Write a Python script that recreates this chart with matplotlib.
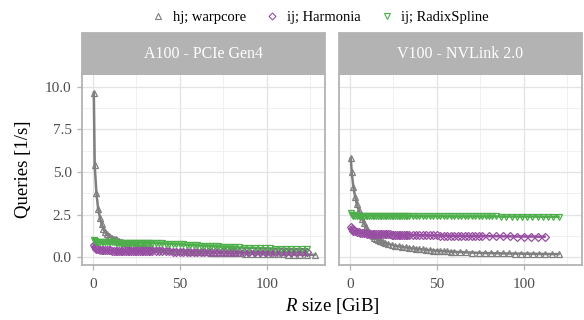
import matplotlib
matplotlib.use("Agg")
import matplotlib.pyplot as plt
from matplotlib.lines import Line2D
from matplotlib.patches import Rectangle

plt.rcParams['font.family'] = ['Liberation Serif', 'DejaVu Serif']
plt.rcParams['mathtext.fontset'] = 'custom'
plt.rcParams['mathtext.rm'] = 'Liberation Serif'
plt.rcParams['mathtext.it'] = 'Liberation Serif:italic'

panels = ['A100 - PCIe Gen4', 'V100 - NVLink 2.0']
series = ['hj; warpcore', 'ij; Harmonia', 'ij; RadixSpline']

# A100
x_a100_hj = [0.5, 1, 2, 3, 4, 5, 6, 7, 8, 9, 10, 11, 12, 13, 14, 15, 16, 17, 18, 19, 20,
             22, 24, 26, 28, 30, 32, 34, 36, 38, 40, 42, 44, 46, 48, 50, 52, 54, 56, 58, 60,
             62, 64, 66, 68, 70, 72, 74, 76, 78, 80, 82, 84, 87.5, 91, 94.5, 98, 101.5, 105,
             108.5, 112, 115.5, 119, 123, 127.5]
y_a100_hj = [9.65, 5.4, 3.75, 2.85, 2.33, 1.95, 1.66, 1.46, 1.34, 1.26, 1.2, 1.15, 1.1, 1.05, 1.0,
             0.96, 0.92, 0.88, 0.85, 0.82, 0.79,
             0.74, 0.69, 0.65, 0.61, 0.58, 0.55, 0.52, 0.5, 0.48, 0.46, 0.44, 0.42, 0.4, 0.39, 0.37,
             0.36, 0.35, 0.34, 0.33, 0.32, 0.31, 0.3, 0.29, 0.28, 0.27, 0.265, 0.26, 0.25, 0.245,
             0.24, 0.235, 0.23, 0.22, 0.21, 0.2, 0.19, 0.185, 0.18, 0.17, 0.165, 0.16, 0.155,
             0.15, 0.145]
x_a100_ij = [0.5, 1, 1.5, 2, 3, 4, 5, 6, 7, 8, 9, 10, 11, 12, 13, 14, 15, 16, 17, 18, 19, 20,
             21, 22, 23, 24, 25, 26, 27, 28, 29, 30, 31, 32, 33, 34, 36, 38, 40, 42, 44, 46, 48,
             50, 52, 54, 56, 58, 60, 62, 64, 66, 68, 70, 72, 74, 76, 78, 80, 82, 84, 87, 90, 93,
             96, 99, 102, 105, 108, 111, 114, 117, 120, 123]
y_a100_harmonia = [0.75, 0.6, 0.53, 0.5, 0.47, 0.45, 0.44, 0.43, 0.42, 0.42, 0.41, 0.41, 0.4,
                   0.4, 0.4, 0.39, 0.39, 0.39, 0.39, 0.38, 0.38, 0.38, 0.38, 0.38, 0.38, 0.37,
                   0.37, 0.37, 0.37, 0.37, 0.37, 0.36, 0.36, 0.36, 0.36, 0.36, 0.36, 0.35, 0.35,
                   0.35, 0.35, 0.34, 0.34, 0.34, 0.34, 0.33, 0.33, 0.33, 0.33, 0.33, 0.32, 0.32,
                   0.32, 0.32, 0.32, 0.31, 0.31, 0.31, 0.31, 0.31, 0.31, 0.31, 0.3, 0.3, 0.3, 0.3,
                   0.3, 0.3, 0.29, 0.29, 0.29, 0.29, 0.29, 0.29]
y_a100_radix = [1.0, 0.93, 0.9, 0.88, 0.88, 0.88, 0.88, 0.87, 0.87, 0.87, 0.87, 0.87, 0.87, 0.87,
                0.86, 0.86, 0.86, 0.86, 0.86, 0.86, 0.86, 0.86, 0.86, 0.86, 0.86, 0.86, 0.86,
                0.86, 0.86, 0.85, 0.85, 0.85, 0.85, 0.85, 0.85, 0.85, 0.84, 0.83, 0.82, 0.81, 0.8,
                0.79, 0.78, 0.77, 0.76, 0.74, 0.73, 0.72, 0.7, 0.69, 0.68, 0.67, 0.66, 0.65, 0.64,
                0.63, 0.62, 0.61, 0.6, 0.59, 0.58, 0.57, 0.56, 0.55, 0.54, 0.53, 0.52, 0.51, 0.51,
                0.5, 0.49, 0.48, 0.48, 0.47]

# V100
x_v100_hj = [0.5, 1, 2, 3, 4, 5, 6, 7, 8, 9, 10, 11, 12, 13, 14, 15, 16, 17, 18, 19, 20,
             22, 24, 26, 28, 30, 32, 34, 36, 38, 40, 42, 44, 46, 48, 50, 52, 54, 56, 58, 60,
             63.5, 67, 70.5, 74, 77.5, 81, 84.5, 88, 91.5, 95, 98.5, 102, 105.5, 109, 112.5,
             116, 120]
y_v100_hj = [5.8, 5.0, 4.1, 3.55, 3.1, 2.78, 2.5, 2.27, 2.0, 1.79, 1.61, 1.48, 1.35, 1.25, 1.16,
             1.09, 1.03, 0.97, 0.93, 0.88, 0.85,
             0.78, 0.73, 0.68, 0.64, 0.61, 0.58, 0.55, 0.52, 0.5, 0.48, 0.46, 0.44, 0.42, 0.4,
             0.39, 0.37, 0.36, 0.35, 0.33, 0.32, 0.31, 0.29, 0.28, 0.26, 0.25, 0.245, 0.235,
             0.23, 0.225, 0.22, 0.215, 0.21, 0.205, 0.2, 0.195, 0.19, 0.19]
x_v100_harmonia = [0.5, 1, 1.5, 2, 3, 4, 5, 6, 7, 8, 9, 10, 11, 12, 13, 14, 15, 16, 17, 18, 19,
                   20, 21, 22, 23, 24, 25, 26, 27, 28, 29, 30, 31, 32, 33, 34, 36, 38, 40, 42,
                   44, 46, 48, 50, 52, 54, 56, 58, 60, 62, 64, 66, 68, 70, 72, 74, 76, 80, 84,
                   88, 92, 96, 100, 104, 108, 112]
y_v100_harmonia = [1.75, 1.65, 1.6, 1.56, 1.52, 1.49, 1.46, 1.44, 1.42, 1.41, 1.4, 1.39, 1.38,
                   1.38, 1.37, 1.37, 1.36, 1.36, 1.36, 1.35, 1.35, 1.35, 1.34, 1.34, 1.34, 1.33,
                   1.33, 1.33, 1.32, 1.32, 1.32, 1.31, 1.31, 1.31, 1.3, 1.3, 1.3, 1.3, 1.29, 1.29,
                   1.29, 1.28, 1.28, 1.28, 1.27, 1.27, 1.27, 1.26, 1.26, 1.26, 1.26, 1.25, 1.25,
                   1.25, 1.25, 1.25, 1.25, 1.24, 1.24, 1.23, 1.23, 1.22, 1.22, 1.22, 1.21, 1.21]
x_v100_radix = [0.5, 1, 1.5, 2, 3, 4, 5, 6, 7, 8, 9, 10, 11, 12, 13, 14, 15, 16, 17, 18, 19, 20,
                21, 22, 23, 24, 25, 26, 27, 28, 29, 30, 31, 32, 33, 34, 36, 38, 40, 42, 44, 46,
                48, 50, 52, 54, 56, 58, 60, 62, 64, 66, 68, 70, 72, 74, 76, 78, 80, 82, 84, 87,
                90, 93, 96, 99, 102, 105, 108, 111, 114, 117, 120]
y_v100_radix = [2.6, 2.5, 2.46, 2.45, 2.44, 2.44, 2.44, 2.43, 2.43, 2.43, 2.43, 2.43, 2.43, 2.43,
                2.43, 2.42, 2.42, 2.42, 2.42, 2.42, 2.42, 2.42, 2.42, 2.42, 2.42, 2.42, 2.42,
                2.42, 2.42, 2.42, 2.42, 2.42, 2.41, 2.41, 2.41, 2.41, 2.41, 2.41, 2.41, 2.41,
                2.41, 2.41, 2.41, 2.41, 2.41, 2.4, 2.4, 2.4, 2.4, 2.4, 2.4, 2.4, 2.4, 2.4, 2.4,
                2.4, 2.4, 2.4, 2.4, 2.4, 2.4, 2.39, 2.39, 2.39, 2.39, 2.39, 2.39, 2.39, 2.39,
                2.38, 2.38, 2.38, 2.38]

data = {
    panels[0]: [(x_a100_hj, y_a100_hj), (x_a100_ij, y_a100_harmonia), (x_a100_ij, y_a100_radix)],
    panels[1]: [(x_v100_hj, y_v100_hj), (x_v100_harmonia, y_v100_harmonia), (x_v100_radix, y_v100_radix)],
}

colors = ['#7F7F7F', '#984EA3', '#4DAF4A']
markers = ['^', 'D', 'v']
msizes = [5.0, 4.0, 5.0]

W, H = 584, 320
fig = plt.figure(figsize=(W / 100, H / 100), dpi=100)


def px_axes(left, top, right, bottom):
    return fig.add_axes([left / W, 1 - bottom / H, (right - left) / W, (bottom - top) / H])


boxes = [(82, 74, 325, 265), (339, 74, 582, 265)]
strip_top = 33
for i, (panel, box) in enumerate(zip(panels, boxes)):
    ax = px_axes(*box)
    ax.set_xlim(-6.3, 133.5)
    ax.set_ylim(-0.45, 10.75)
    ax.set_xticks([0, 50, 100])
    ax.set_xticks([25, 75, 125], minor=True)
    ax.set_yticks([0, 2.5, 5, 7.5, 10])
    ax.set_yticks([1.25, 3.75, 6.25, 8.75], minor=True)
    ax.grid(True, which='major', color='#E3E3E3', lw=0.9)
    ax.grid(True, which='minor', color='#EEEEEE', lw=0.6)
    ax.set_axisbelow(True)
    for s in ax.spines.values():
        s.set_color('#B3B3B3')
        s.set_linewidth(1.3)
    ax.tick_params(which='major', color='#B3B3B3', length=3.5, width=0.9,
                   labelsize=11, labelcolor='#4D4D4D', pad=4)
    ax.tick_params(axis='x', pad=6)
    ax.tick_params(which='minor', length=0)
    if i == 0:
        ax.set_yticklabels(['0.0', '2.5', '5.0', '7.5', '10.0'])
        ax.set_ylabel('Queries [1/s]', fontsize=13.5, labelpad=9)
    else:
        ax.tick_params(axis='y', left=False, labelleft=False)

    for k, (xs, ys) in enumerate(data[panel]):
        ax.plot(xs, ys, color=colors[k], lw=1.8, zorder=2 + k * 0.1)
    for k, (xs, ys) in enumerate(data[panel]):
        ax.plot(xs, ys, ls='none', marker=markers[k], ms=msizes[k], mfc='none',
                mec=colors[k], mew=0.9, zorder=3 + k * 0.1)

    # facet strip
    l, t, r, b = box
    fig.patches.append(Rectangle((l / W, 1 - t / H), (r - l) / W, (t - strip_top) / H,
                                 transform=fig.transFigure, facecolor='#B3B3B3',
                                 edgecolor='#B3B3B3', lw=1.3))
    fig.text((l + r) / 2 / W, 1 - (t + strip_top) / 2 / H, panel, color='white',
             fontsize=11.5, ha='center', va='center')

fig.text((82 + 582) / 2 / W, 1 - 306 / H, '$R$ size [GiB]', fontsize=13.5,
         ha='center', va='center')

handles = [Line2D([], [], ls='none', marker=markers[k], ms=msizes[k] - 0.5, mfc='none',
                  mec=colors[k], mew=0.8) for k in range(3)]
fig.legend(handles, series, loc='center', bbox_to_anchor=(320 / W, 1 - 17 / H),
           ncol=3, frameon=False, fontsize=10.5, handlelength=1.0, handletextpad=0.5,
           columnspacing=1.3, borderaxespad=0)

fig.savefig('out.png', dpi=100)
